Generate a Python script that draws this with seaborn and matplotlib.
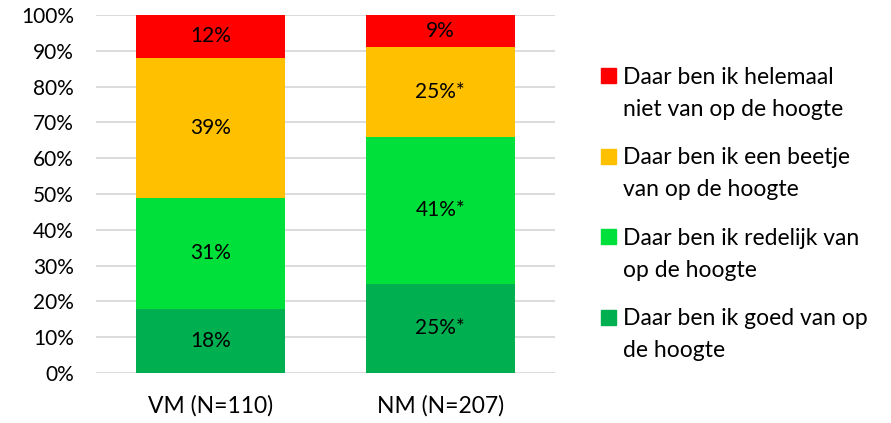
import numpy as np
import pandas as pd
import matplotlib
matplotlib.use("Agg")
import matplotlib.pyplot as plt
import seaborn as sns
from matplotlib.patches import Rectangle
from matplotlib.ticker import PercentFormatter

# data (percentages per groep, van onder naar boven gestapeld)
groepen = ["VM (N=110)", "NM (N=207)"]
niveaus = [
    "Daar ben ik goed van op\nde hoogte",
    "Daar ben ik redelijk van\nop de hoogte",
    "Daar ben ik een beetje\nvan op de hoogte",
    "Daar ben ik helemaal\nniet van op de hoogte",
]
goed = [18, 25]
redelijk = [31, 41]
beetje = [39, 25]
helemaal_niet = [12, 9]
# * = significant verschil t.o.v. VM
significant = [[False, True], [False, True], [False, True], [False, False]]
kleuren = ["#00B050", "#00E03A", "#FFC000", "#FF0000"]

sns.set_theme(style="white")
plt.rcParams["font.family"] = ["Lato", "DejaVu Sans"]
fs_num = 15    # percentages
fs_txt = 16.5  # woorden (legenda, groepen)

W, H = 891, 423
fig = plt.figure(figsize=(W / 100, H / 100), dpi=100)
ax = fig.add_axes([96 / W, 1 - 373 / H, (555 - 96) / W, (373 - 15) / H])

reeksen = [goed, redelijk, beetje, helemaal_niet]
cum = np.cumsum(np.array(reeksen, dtype=float), axis=0) / 100

# van boven naar beneden tekenen zodat de lagere segmenten de hogere afdekken
for i in range(len(reeksen) - 1, -1, -1):
    df = pd.DataFrame({"groep": groepen, "waarde": cum[i]})
    sns.barplot(data=df, x="groep", y="waarde", color=kleuren[i], width=0.65,
                saturation=1, errorbar=None, linewidth=0, ax=ax, zorder=2)

# labels in het midden van elk segment
for i, reeks in enumerate(reeksen):
    for j, v in enumerate(reeks):
        midden = cum[i][j] - v / 200
        tekst = f"{v}%" + ("*" if significant[i][j] else "")
        ax.text(j, midden, tekst, ha="center", va="center", fontsize=fs_num,
                color="black", zorder=3)

ax.set_xlim(-0.5, 1.5)
ax.set_ylim(0, 1)
ax.set_yticks(np.arange(0, 1.01, 0.1))
ax.yaxis.set_major_formatter(PercentFormatter(1.0, decimals=0))
ax.yaxis.grid(True, color="#D9D9D9", linewidth=1.3)
ax.set_axisbelow(True)
ax.tick_params(axis="y", length=0, pad=16, labelsize=fs_num, labelcolor="#000000")
ax.tick_params(axis="x", length=0, pad=16, labelsize=fs_txt, labelcolor="#000000")
ax.set_xlabel("")
ax.set_ylabel("")
sns.despine(ax=ax, left=True, bottom=True)

# legenda (boven = helemaal niet)
for k, i in enumerate(range(len(niveaus) - 1, -1, -1)):
    yc = 76 + 80.4 * k
    fig.patches.append(Rectangle((601 / W, 1 - (yc + 7.5) / H), 15 / W, 15 / H,
                                 transform=fig.transFigure, color=kleuren[i]))
    for r, regel in enumerate(niveaus[i].split("\n")):
        fig.text(623 / W, 1 - (yc + 8 + 32 * r) / H, regel, fontsize=fs_txt,
                 va="baseline", ha="left", color="black")

fig.savefig("out.png", dpi=100)
